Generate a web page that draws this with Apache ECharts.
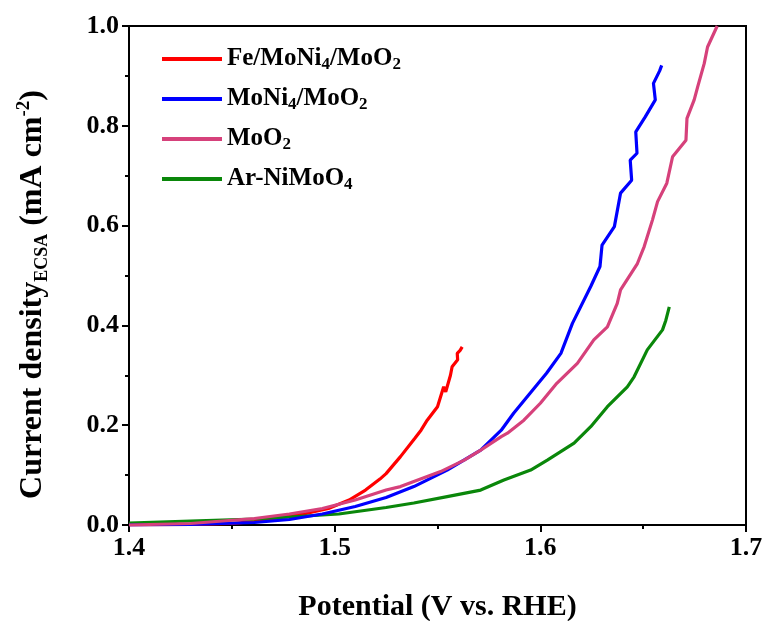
<!DOCTYPE html>
<html>
<head>
<meta charset="utf-8">
<script src="https://cdn.jsdelivr.net/npm/echarts@6/dist/echarts.min.js"></script>
<style>html,body{margin:0;padding:0;background:#fff}#c{width:767px;height:621px}</style>
</head>
<body>
<div id="c"></div>
<script>
const seriesNames = ['Fe/MoNi4/MoO2', 'MoNi4/MoO2', 'MoO2', 'Ar-NiMoO4'];
const legendLabels = ['Fe/MoNi{s|4}/MoO{s|2}', 'MoNi{s|4}/MoO{s|2}', 'MoO{s|2}', 'Ar-NiMoO{s|4}'];
const xTicks = [1.4, 1.5, 1.6, 1.7];
const yTicks = [0.0, 0.2, 0.4, 0.6, 0.8, 1.0];

const redV = [1.400, 1.430, 1.450, 1.461, 1.471, 1.486, 1.497, 1.507, 1.515, 1.522, 1.525, 1.532, 1.539, 1.542, 1.545, 1.550, 1.553, 1.554, 1.5563, 1.5571, 1.5598, 1.5596, 1.5610, 1.562];
const redJ = [0.000, 0.001, 0.003, 0.007, 0.013, 0.023, 0.033, 0.050, 0.070, 0.092, 0.103, 0.137, 0.174, 0.190, 0.210, 0.237, 0.277, 0.267, 0.300, 0.317, 0.331, 0.344, 0.350, 0.357];

const blueV = [1.400, 1.430, 1.461, 1.478, 1.494, 1.510, 1.525, 1.5385, 1.5547, 1.571, 1.581, 1.587, 1.595, 1.603, 1.610, 1.6156, 1.6245, 1.629, 1.630, 1.636, 1.639, 1.6444, 1.6437, 1.647, 1.6464, 1.651, 1.6559, 1.655, 1.658, 1.659];
const blueJ = [0.000, 0.001, 0.005, 0.011, 0.022, 0.037, 0.055, 0.077, 0.110, 0.150, 0.190, 0.224, 0.264, 0.304, 0.344, 0.404, 0.478, 0.518, 0.561, 0.598, 0.665, 0.691, 0.731, 0.745, 0.788, 0.818, 0.852, 0.885, 0.910, 0.921];

const pinkV = [1.400, 1.430, 1.461, 1.478, 1.494, 1.510, 1.525, 1.532, 1.5515, 1.563, 1.571, 1.581, 1.584, 1.592, 1.600, 1.608, 1.618, 1.626, 1.6326, 1.6374, 1.639, 1.6472, 1.6505, 1.6545, 1.657, 1.6615, 1.6643, 1.6708, 1.6713, 1.6748, 1.6765, 1.6797, 1.6813, 1.686];
const pinkJ = [0.000, 0.003, 0.013, 0.022, 0.033, 0.050, 0.070, 0.077, 0.107, 0.130, 0.150, 0.177, 0.184, 0.210, 0.244, 0.284, 0.324, 0.371, 0.397, 0.444, 0.471, 0.524, 0.558, 0.611, 0.648, 0.685, 0.738, 0.771, 0.815, 0.852, 0.878, 0.925, 0.958, 1.000];

const greenV = [1.400, 1.430, 1.461, 1.478, 1.502, 1.525, 1.5385, 1.5547, 1.571, 1.5823, 1.5953, 1.6034, 1.6164, 1.6245, 1.6326, 1.6423, 1.6456, 1.652, 1.6594, 1.661, 1.6627];
const greenJ = [0.004, 0.008, 0.012, 0.016, 0.022, 0.035, 0.044, 0.057, 0.070, 0.090, 0.110, 0.130, 0.164, 0.197, 0.237, 0.277, 0.297, 0.351, 0.391, 0.410, 0.437];

const colors = ['#ff0000', '#0000ff', '#d6417b', '#0a870a'];
const allV = [redV, blueV, pinkV, greenV];
const allJ = [redJ, blueJ, pinkJ, greenJ];

const FONT = '"Liberation Serif", "Times New Roman", serif';
const chart = echarts.init(document.getElementById('c'));
const option = {
  animation: false,
  backgroundColor: '#fff',
  grid: {left: 129, right: 21, top: 26, bottom: 96, outerBoundsMode: 'none', containLabel: false,
    show: true, borderColor: '#000', borderWidth: 2, backgroundColor: 'transparent'},
  legend: {
    orient: 'vertical', left: 157, top: 40, itemGap: 12,
    itemWidth: 60, itemHeight: 4, icon: 'rect',
    data: seriesNames,
    formatter: function (n) { return legendLabels[seriesNames.indexOf(n)]; },
    textStyle: {fontFamily: FONT, fontWeight: 'bold', fontSize: 25, color: '#000', lineHeight: 28,
      rich: {s: {fontFamily: FONT, fontWeight: 'bold', fontSize: 17, verticalAlign: 'bottom', lineHeight: 12}}}
  },
  xAxis: {
    type: 'value', min: 1.4, max: 1.7, interval: 0.1,
    name: 'Potential (V vs. RHE)', nameLocation: 'middle', nameGap: 67,
    nameTextStyle: {fontFamily: FONT, fontWeight: 'bold', fontSize: 30, color: '#000'},
    axisLine: {onZero: false, lineStyle: {color: '#000', width: 2}},
    axisTick: {length: 7, lineStyle: {width: 2}},
    minorTick: {show: true, splitNumber: 2, length: 4, lineStyle: {color: '#000', width: 2}},
    splitLine: {show: false},
    axisLabel: {fontFamily: FONT, fontWeight: 'bold', fontSize: 26, color: '#000', margin: 10,
      formatter: function (v) { return v.toFixed(1); }}
  },
  yAxis: {
    type: 'value', min: 0, max: 1, interval: 0.2,
    name: 'Current density{sub|ECSA} (mA cm{sup|-2})', nameLocation: 'middle', nameGap: 78,
    nameTextStyle: {fontFamily: FONT, fontWeight: 'bold', fontSize: 32, color: '#000', lineHeight: 36,
      padding: [0, 38, 0, 0],
      rich: {
        sub: {fontFamily: FONT, fontWeight: 'bold', fontSize: 18, verticalAlign: 'bottom', lineHeight: 14},
        sup: {fontFamily: FONT, fontWeight: 'bold', fontSize: 19, verticalAlign: 'top', lineHeight: 16}
      }},
    axisLine: {lineStyle: {color: '#000', width: 2}},
    axisTick: {length: 7, lineStyle: {width: 2}},
    minorTick: {show: true, splitNumber: 2, length: 4, lineStyle: {color: '#000', width: 2}},
    splitLine: {show: false},
    axisLabel: {fontFamily: FONT, fontWeight: 'bold', fontSize: 26, color: '#000', margin: 10,
      formatter: function (v) { return v.toFixed(1); }}
  },
  series: seriesNames.map(function (n, i) {
    return {
      name: n, type: 'line', showSymbol: false, symbol: 'none',
      data: allV[i].map(function (v, k) { return [v, allJ[i][k]]; }),
      lineStyle: {color: colors[i], width: 3.2},
      itemStyle: {color: colors[i]},
      z: 2 + (i === 3 ? 0 : i)
    };
  })
};
chart.setOption(option);
</script>
</body>
</html>
